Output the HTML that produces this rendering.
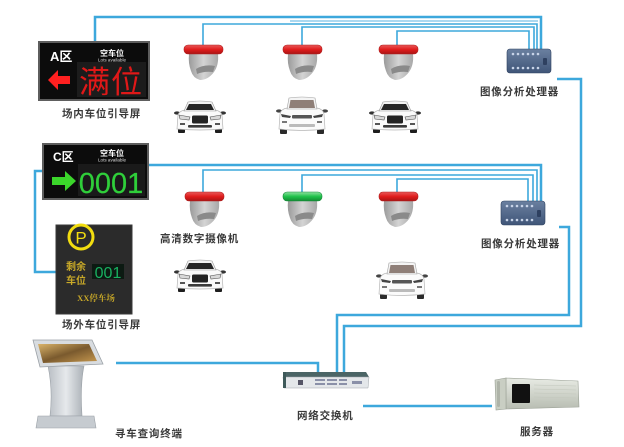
<!DOCTYPE html>
<html><head><meta charset="utf-8">
<style>
html,body{margin:0;padding:0;background:#fff;}
svg{display:block;}
.lbl{font-family:"Liberation Sans","Noto Sans CJK SC",sans-serif;font-size:10.5px;font-weight:bold;fill:#3a3a3a;letter-spacing:0.8px;}
</style></head>
<body>
<svg width="624" height="447" viewBox="0 0 624 447" xmlns="http://www.w3.org/2000/svg">
<defs>
  <linearGradient id="ringR" x1="0" y1="0" x2="0" y2="1">
    <stop offset="0" stop-color="#e85a5a"/><stop offset="0.5" stop-color="#e01c1c"/><stop offset="1" stop-color="#a81515"/>
  </linearGradient>
  <linearGradient id="ringG" x1="0" y1="0" x2="0" y2="1">
    <stop offset="0" stop-color="#8fe0a0"/><stop offset="0.5" stop-color="#1fc24a"/><stop offset="1" stop-color="#148a34"/>
  </linearGradient>
  <linearGradient id="body" x1="0" y1="0" x2="1" y2="0">
    <stop offset="0" stop-color="#9a9a9a"/><stop offset="0.5" stop-color="#d4d4d4"/><stop offset="1" stop-color="#a8a8a8"/>
  </linearGradient>
  <linearGradient id="procGrad" x1="0" y1="0" x2="0" y2="1">
    <stop offset="0" stop-color="#6b80a0"/><stop offset="1" stop-color="#3f5578"/>
  </linearGradient>
  <linearGradient id="screen" x1="0" y1="0" x2="1" y2="1">
    <stop offset="0" stop-color="#d9b36a"/><stop offset="0.5" stop-color="#7a5a2e"/><stop offset="1" stop-color="#c89a50"/>
  </linearGradient>
  <linearGradient id="stand" x1="0" y1="0" x2="1" y2="0">
    <stop offset="0" stop-color="#b9bec4"/><stop offset="0.5" stop-color="#e6e9ec"/><stop offset="1" stop-color="#aab0b6"/>
  </linearGradient>
  <linearGradient id="srv" x1="0" y1="0" x2="0" y2="1">
    <stop offset="0" stop-color="#e8ebe4"/><stop offset="1" stop-color="#b8bdb2"/>
  </linearGradient>

  <g id="camR">
    <path d="M5,9 L34,9 Q35,20 30,27 Q24,35 16,35 Q9,33 7,26 Q4,18 5,9 Z" fill="url(#body)"/>
    <path d="M12,24 Q20,19 31,21 L29,27 Q20,26 13,29 Z" fill="#8a8a8a"/>
    <rect x="0" y="0" width="39" height="9" rx="4" fill="url(#ringR)" stroke="#b02020" stroke-width="0.6"/>
  </g>
  <g id="camG">
    <path d="M5,9 L34,9 Q35,20 30,27 Q24,35 16,35 Q9,33 7,26 Q4,18 5,9 Z" fill="url(#body)"/>
    <path d="M12,24 Q20,19 31,21 L29,27 Q20,26 13,29 Z" fill="#8a8a8a"/>
    <rect x="0" y="0" width="39" height="9" rx="4" fill="url(#ringG)" stroke="#178a3a" stroke-width="0.6"/>
  </g>

  <g id="car">
    <ellipse cx="2" cy="13" rx="3" ry="1.6" fill="#333"/>
    <ellipse cx="48" cy="13" rx="3" ry="1.6" fill="#333"/>
    <rect x="3" y="26" width="7" height="7" rx="1" fill="#1e1e1e"/>
    <rect x="40" y="26" width="7" height="7" rx="1" fill="#1e1e1e"/>
    <path d="M3,15 Q4,11 10,10 L40,10 Q46,11 47,15 L48,29 Q25,31 2,29 Z" fill="#fafafa" stroke="#b5b5b5" stroke-width="0.7"/>
    <path d="M9,11 L13,2 Q25,0 37,2 L41,11 Z" fill="#f2f2f2" stroke="#999" stroke-width="0.6"/>
    <path d="M11,10 L14,4 L36,4 L39,10 Z" fill="#262626"/>
    <path d="M4,15 L15,17 L14,20 L5,19 Z" fill="#d8d8d8" stroke="#555" stroke-width="0.6"/>
    <path d="M46,15 L35,17 L36,20 L45,19 Z" fill="#d8d8d8" stroke="#555" stroke-width="0.6"/>
    <rect x="17" y="15.5" width="16" height="8" rx="1.5" fill="#232323"/>
    <rect x="13" y="25" width="24" height="2.6" rx="1" fill="#3a3a3a"/>
    <rect x="5" y="23" width="5" height="2" fill="#555"/>
    <rect x="40" y="23" width="5" height="2" fill="#555"/>
  </g>
  <g id="suv">
    <ellipse cx="2" cy="14" rx="3" ry="1.6" fill="#444"/>
    <ellipse cx="48" cy="14" rx="3" ry="1.6" fill="#444"/>
    <rect x="3" y="30" width="7" height="7" rx="1" fill="#2a2a2a"/>
    <rect x="40" y="30" width="7" height="7" rx="1" fill="#2a2a2a"/>
    <path d="M3,17 Q4,12 10,11 L40,11 Q46,12 47,17 L48,32 Q25,35 2,32 Z" fill="#fbfbfb" stroke="#b8b8b8" stroke-width="0.7"/>
    <path d="M10,12 L12,1 Q25,-1 38,1 L40,12 Z" fill="#f4f4f4" stroke="#a0a0a0" stroke-width="0.6"/>
    <path d="M12,11 L13.5,3 L36.5,3 L38,11 Z" fill="#8f7f78"/>
    <path d="M4,17 L14,19 L13,21 L5,20 Z" fill="#444"/>
    <path d="M46,17 L36,19 L37,21 L45,20 Z" fill="#444"/>
    <rect x="15" y="18" width="20" height="3.5" rx="1" fill="#555"/>
    <rect x="12" y="27" width="26" height="3" rx="1" fill="#bbb"/>
    <rect x="5" y="24" width="5" height="2" fill="#777"/>
    <rect x="40" y="24" width="5" height="2" fill="#777"/>
  </g>

  <g id="procBox">
    <rect x="0" y="0" width="44" height="24" rx="3" fill="url(#procGrad)" stroke="#2f4260" stroke-width="0.6"/>
    <g fill="#c8d4e8">
      <circle cx="6" cy="5" r="1.3"/><circle cx="11" cy="5" r="1.3"/><circle cx="16" cy="5" r="1.3"/><circle cx="21" cy="5" r="1.3"/><circle cx="26" cy="5" r="1.3"/><circle cx="31" cy="5" r="1.3"/>
      <circle cx="6" cy="19" r="1.3"/><circle cx="11" cy="19" r="1.3"/><circle cx="16" cy="19" r="1.3"/><circle cx="21" cy="19" r="1.3"/><circle cx="26" cy="19" r="1.3"/><circle cx="31" cy="19" r="1.3"/>
    </g>
    <rect x="36" y="9" width="4" height="7" rx="1" fill="#2e4060"/>
  </g>
</defs>

<!-- ===== Connector lines ===== -->
<g fill="none" stroke="#3da8dc" stroke-linejoin="miter">
  <path d="M95,42 V17 H541 V49" stroke-width="2.5"/>
  <path d="M203,45 V24 H537 V49" stroke-width="1.6"/>
  <path d="M302,45 V27 H534 V49" stroke-width="1.6"/>
  <path d="M397,45 V31 H529 V49" stroke-width="1.6"/>
  <path d="M290,21 H538" stroke-width="1.2" opacity="0.7"/>
  <path d="M148,165 H541 V201" stroke-width="2.5"/>
  <path d="M203,192 V170 H537 V201" stroke-width="1.6"/>
  <path d="M302,192 V175 H533 V201" stroke-width="1.6"/>
  <path d="M397,192 V179 H528 V201" stroke-width="1.6"/>
  <path d="M44,171 H35 V272 H56" stroke-width="2.5"/>
  <path d="M557,79 H581 V326 H344 V373" stroke-width="2.5"/>
  <path d="M559,227 H569 V315 H337 V373" stroke-width="2.5"/>
  <path d="M116,363 H318 V373" stroke-width="2.5"/>
  <path d="M363,406 H492" stroke-width="2.5"/>
</g>

<!-- ===== A panel ===== -->
<rect x="39" y="42" width="110" height="58" fill="#0c0c0c" stroke="#5e5e5e" stroke-width="2"/>
<rect x="77" y="62" width="69" height="35" fill="#1c1c1c"/>
<text x="50" y="61" font-family="Liberation Sans,'Noto Sans CJK SC',sans-serif" font-size="13" font-weight="bold" fill="#fff">A区</text>
<text x="112" y="56" text-anchor="middle" font-family="'Noto Sans CJK SC',sans-serif" font-size="8" font-weight="bold" fill="#fff">空车位</text>
<text x="112" y="61.5" text-anchor="middle" font-family="Liberation Sans,sans-serif" font-size="4.6" fill="#ddd">Lots available</text>
<path d="M48,80 L58,70 L58,76 L70,76 L70,84 L58,84 L58,90 Z" fill="#ff2020"/>
<text x="111" y="93" text-anchor="middle" font-family="'Noto Sans CJK SC',sans-serif" font-size="31" fill="#e01818" letter-spacing="1">满位</text>

<text x="62" y="117" class="lbl">场内车位引导屏</text>

<!-- ===== C panel ===== -->
<rect x="43" y="144" width="105" height="55" fill="#0c0c0c" stroke="#5e5e5e" stroke-width="2"/>
<rect x="78" y="164" width="67" height="32" fill="#1a1a1a"/>
<text x="53" y="161" font-family="Liberation Sans,'Noto Sans CJK SC',sans-serif" font-size="12" font-weight="bold" fill="#fff">C区</text>
<text x="112" y="156" text-anchor="middle" font-family="'Noto Sans CJK SC',sans-serif" font-size="8" font-weight="bold" fill="#fff">空车位</text>
<text x="112" y="161.5" text-anchor="middle" font-family="Liberation Sans,sans-serif" font-size="4.6" fill="#ddd">Lots available</text>
<path d="M76,181 L65,171 L65,177 L52,177 L52,185 L65,185 L65,191 Z" fill="#3bd62b"/>
<text x="111" y="193" text-anchor="middle" font-family="Liberation Sans,sans-serif" font-size="29" fill="#2fcf3a" stroke="#2fcf3a" stroke-width="0.2">0001</text>

<!-- ===== P panel ===== -->
<rect x="56" y="225" width="76" height="89" fill="#2b2b2b" stroke="#3a3a3a" stroke-width="1"/>
<circle cx="81" cy="237" r="12" fill="none" stroke="#f2dd10" stroke-width="3"/>
<text x="81" y="243.5" text-anchor="middle" font-family="Liberation Sans,sans-serif" font-size="17" fill="#f2dd10">P</text>
<text x="66" y="270" font-family="'Noto Sans CJK SC',sans-serif" font-size="10" font-weight="bold" fill="#c9a928">剩余</text>
<text x="66" y="284" font-family="'Noto Sans CJK SC',sans-serif" font-size="10" font-weight="bold" fill="#c9a928">车位</text>
<rect x="92" y="264" width="32" height="15" fill="#0c1a12"/>
<text x="108" y="278" text-anchor="middle" font-family="Liberation Sans,sans-serif" font-size="16" fill="#18b060">001</text>
<text x="96" y="301" text-anchor="middle" font-family="Liberation Serif,'Noto Serif CJK SC',serif" font-size="8.5" font-weight="bold" fill="#c9a928">XX停车场</text>

<text x="62" y="328" class="lbl">场外车位引导屏</text>

<!-- ===== Cameras ===== -->
<use href="#camR" x="184" y="45"/>
<use href="#camR" x="283" y="45"/>
<use href="#camR" x="379" y="45"/>
<use href="#camR" x="185" y="192"/>
<use href="#camG" x="283" y="192"/>
<use href="#camR" x="379" y="192"/>
<text x="160" y="242" class="lbl">高清数字摄像机</text>

<!-- ===== Cars ===== -->
<use href="#car" x="175" y="100"/>
<use href="#suv" x="277" y="97"/>
<use href="#car" x="370" y="100"/>
<use href="#car" x="175" y="259"/>
<use href="#suv" x="377" y="262"/>

<!-- ===== Processors ===== -->
<use href="#procBox" x="507" y="49"/>
<text x="480" y="95" class="lbl">图像分析处理器</text>
<use href="#procBox" x="501" y="201"/>
<text x="481" y="247" class="lbl">图像分析处理器</text>

<!-- ===== Kiosk ===== -->
<path d="M48,366 L84,366 Q80,385 82,416 L50,416 Q53,390 48,366 Z" fill="url(#stand)" stroke="#9aa0a6" stroke-width="0.6"/>
<path d="M38,416 L94,416 L96,428 L36,428 Z" fill="#c6cbd0" stroke="#9aa0a6" stroke-width="0.6"/>
<path d="M33,340 L92,340 L103,364 L40,367 Z" fill="#d8dce0" stroke="#9aa0a6" stroke-width="0.8"/>
<path d="M38,344 L89,344 L97,361 L43,363 Z" fill="url(#screen)"/>
<text x="115" y="437" class="lbl">寻车查询终端</text>

<!-- ===== Switch ===== -->
<path d="M286,372 L366,372 L369,377 L283,377 Z" fill="#4b6566"/>
<path d="M283,377 L369,377 L368,388 L284,388 Z" fill="#e4e7ea" stroke="#a0a5aa" stroke-width="0.5"/>
<path d="M283,372 L286,372 L286,388 L283,388 Z" fill="#3e5a5a"/>
<rect x="298" y="380" width="5" height="5" fill="#556"/>
<g fill="#8a90a8">
  <rect x="315" y="379" width="10" height="2"/><rect x="315" y="383" width="10" height="2"/>
  <rect x="327" y="379" width="10" height="2"/><rect x="327" y="383" width="10" height="2"/>
  <rect x="339" y="379" width="8" height="2"/><rect x="339" y="383" width="8" height="2"/>
  <rect x="352" y="381" width="10" height="3"/>
</g>
<text x="297" y="419" class="lbl">网络交换机</text>

<!-- ===== Server ===== -->
<path d="M506,378 L578,381 L579,407 L506,409 Z" fill="url(#srv)" stroke="#9aa095" stroke-width="0.6"/>
<path d="M495,380 L506,378 L506,409 L496,410 Z" fill="#c9cec3" stroke="#9aa095" stroke-width="0.6"/>
<rect x="497" y="381" width="3" height="26" rx="1.5" fill="#aeb3a8"/>
<rect x="512" y="384" width="18" height="19" rx="1" fill="#111"/>
<g stroke="#c2c7bc" stroke-width="0.6">
  <line x1="534" y1="385" x2="576" y2="386"/><line x1="534" y1="389" x2="576" y2="390"/>
  <line x1="534" y1="393" x2="576" y2="394"/><line x1="534" y1="397" x2="576" y2="398"/>
  <line x1="534" y1="401" x2="576" y2="402"/>
</g>
<text x="520" y="435" class="lbl">服务器</text>
</svg>
</body></html>
